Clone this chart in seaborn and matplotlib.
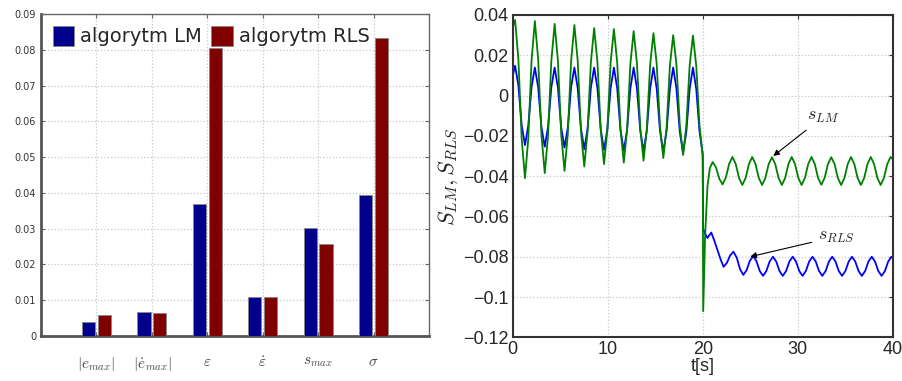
import numpy as np
import pandas as pd
import seaborn as sns
import matplotlib.pyplot as plt

# left panel: error measures for both algorithms
measures = [r'$|e_{max}|$', r'$|\dot{e}_{max}|$', r'$\varepsilon$',
            r'$\dot{\varepsilon}$', r'$s_{max}$', r'$\sigma$']
lm_vals = [0.0038, 0.0068, 0.0370, 0.0108, 0.0301, 0.0394]
rls_vals = [0.0060, 0.0065, 0.0804, 0.0110, 0.0256, 0.0833]
algorithms = ['algorytm LM', 'algorytm RLS']

# right panel: signals (sample step ~1/6 of the period)
step = 0.3467
t0_lm, s0_lm = 0.0, 0.034
t0_rls, s0_rls = 0.0, 0.0098
t_pre = 0.25 + step * np.arange(57)
s_lm_pre = [0.0375, 0.0179, -0.0214, -0.0410, -0.0215, 0.0175,
            0.0370, 0.0181, -0.0196, -0.0385, -0.0200, 0.0171,
            0.0356, 0.0174, -0.0192, -0.0374, -0.0193, 0.0169,
            0.0350, 0.0175, -0.0177, -0.0352, -0.0180, 0.0163,
            0.0335, 0.0166, -0.0171, -0.0340, -0.0173, 0.0163,
            0.0330, 0.0164, -0.0167, -0.0333, -0.0170, 0.0157,
            0.0320, 0.0159, -0.0162, -0.0323, -0.0165, 0.0152,
            0.0310, 0.0155, -0.0155, -0.0310, -0.0158, 0.0148,
            0.0300, 0.0151, -0.0146, -0.0295, -0.0147, 0.0150,
            0.0298, 0.0148, -0.0150]
s_rls_pre = [0.0148, 0.0050, -0.0148, -0.0246, -0.0150, 0.0043,
             0.0139, 0.0041, -0.0156, -0.0254, -0.0156, 0.0041,
             0.0139, 0.0040, -0.0159, -0.0258, -0.0159, 0.0040,
             0.0139, 0.0038, -0.0165, -0.0266, -0.0165, 0.0038,
             0.0139, 0.0037, -0.0168, -0.0270, -0.0168, 0.0037,
             0.0139, 0.0036, -0.0171, -0.0274, -0.0171, 0.0036,
             0.0139, 0.0035, -0.0173, -0.0277, -0.0173, 0.0035,
             0.0139, 0.0034, -0.0175, -0.0280, -0.0175, 0.0034,
             0.0139, 0.0033, -0.0179, -0.0285, -0.0179, 0.0033,
             0.0139, 0.0033, -0.0179]

# jump at t = 20 s
t_lm_jump = [20.0, 20.05, 20.25, 20.5, 20.75]
s_lm_jump = [-0.030, -0.107, -0.070, -0.045, -0.036]
t_rls_jump = [20.0, 20.04, 20.2, 20.5, 20.9, 21.22, 21.86]
s_rls_jump = [-0.029, -0.066, -0.068, -0.0707, -0.068, -0.072, -0.081]

t_lm_post = 21.05 + step * np.arange(55)
s_lm_post = [-0.0330, -0.0357, -0.0413, -0.0441, -0.0407, -0.0339,
             -0.0305, -0.0340, -0.0409, -0.0444, -0.0409, -0.0340,
             -0.0305, -0.0340, -0.0409, -0.0444, -0.0409, -0.0340,
             -0.0306, -0.0341, -0.0409, -0.0444, -0.0409, -0.0340,
             -0.0305, -0.0340, -0.0409, -0.0444, -0.0409, -0.0340,
             -0.0305, -0.0340, -0.0409, -0.0443, -0.0408, -0.0340,
             -0.0306, -0.0340, -0.0409, -0.0444, -0.0409, -0.0340,
             -0.0305, -0.0340, -0.0409, -0.0444, -0.0409, -0.0340,
             -0.0305, -0.0340, -0.0409, -0.0444, -0.0409, -0.0340,
             -0.0305]
t_rls_post = 22.19 + step * np.arange(52)
s_rls_post = [-0.0850, -0.0831, -0.0794, -0.0775, -0.0804, -0.0861,
              -0.0890, -0.0867, -0.0820, -0.0797, -0.0822, -0.0871,
              -0.0895, -0.0871, -0.0824, -0.0800, -0.0824, -0.0871,
              -0.0895, -0.0871, -0.0824, -0.0800, -0.0824, -0.0871,
              -0.0895, -0.0871, -0.0824, -0.0800, -0.0824, -0.0871,
              -0.0895, -0.0871, -0.0824, -0.0800, -0.0824, -0.0871,
              -0.0895, -0.0871, -0.0824, -0.0800, -0.0824, -0.0871,
              -0.0895, -0.0871, -0.0824, -0.0800, -0.0824, -0.0871,
              -0.0895, -0.0871, -0.0824, -0.0800]
t_end, s_lm_end, s_rls_end = 40.0, -0.0315, -0.0805

sns.set_style('white')
plt.rcParams['font.family'] = ['Liberation Sans', 'DejaVu Sans']
plt.rcParams['mathtext.fontset'] = 'cm'

df_bars = pd.DataFrame({
    'measure': measures * 2,
    'algorithm': [algorithms[0]] * 6 + [algorithms[1]] * 6,
    'value': lm_vals + rls_vals,
})

t_lm = np.concatenate([[t0_lm], t_pre, t_lm_jump, t_lm_post, [t_end]])
s_lm = np.concatenate([[s0_lm], s_lm_pre, s_lm_jump, s_lm_post, [s_lm_end]])
t_rls = np.concatenate([[t0_rls], t_pre, t_rls_jump, t_rls_post, [t_end]])
s_rls = np.concatenate([[s0_rls], s_rls_pre, s_rls_jump, s_rls_post, [s_rls_end]])
df_sig = pd.concat([
    pd.DataFrame({'t': t_rls, 's': s_rls, 'sig': 'RLS'}),
    pd.DataFrame({'t': t_lm, 's': s_lm, 'sig': 'LM'}),
])

fig = plt.figure(figsize=(9.03, 3.81), dpi=100)
ax1 = fig.add_axes([0.0454, 0.118, 0.4297, 0.845])
ax2 = fig.add_axes([0.5678, 0.1147, 0.4208, 0.846])

# bar chart
sns.barplot(data=df_bars, x='measure', y='value', hue='algorithm',
            palette=['#00008c', '#800000'], saturation=1, width=0.57, gap=0.17,
            edgecolor='#888888', linewidth=0.6, ax=ax1, zorder=3)
ax1.set_xlim(-1, 6)
ax1.set_ylim(0, 0.09)
ax1.set_yticks(np.arange(0, 0.091, 0.01))
ax1.set_yticklabels(['0'] + ['%.2f' % v for v in np.arange(0.01, 0.091, 0.01)],
                    family='DejaVu Sans')
ax1.set_xlabel('')
ax1.set_ylabel('')
ax1.grid(True, linestyle=':', color='#c8c8c8', linewidth=0.9)
ax1.set_axisbelow(True)
ax1.tick_params(axis='y', labelsize=7, labelcolor='#333333', direction='in',
                length=3, color='#666666', right=True, left=True)
ax1.tick_params(axis='x', labelsize=11, labelcolor='#444444', direction='in',
                length=3, pad=14, color='#666666', top=True, bottom=True)
for side in ['left', 'bottom']:
    ax1.spines[side].set_linewidth(2.0)
    ax1.spines[side].set_color('#555555')
for side in ['top', 'right']:
    ax1.spines[side].set_linewidth(1.0)
    ax1.spines[side].set_color('#666666')
ax1.legend(loc='upper left', ncol=2, frameon=False,
           prop={'family': 'DejaVu Sans', 'size': 14},
           handlelength=1.1, handleheight=1.2, handletextpad=0.3,
           columnspacing=0.5, borderaxespad=0.2, bbox_to_anchor=(0.0, 1.0))

# signals
sns.lineplot(data=df_sig, x='t', y='s', hue='sig', palette=['#0000ff', '#008000'],
             linewidth=1.3, sort=False, estimator=None, legend=False, ax=ax2)
ax2.set_xlim(0, 40)
ax2.set_ylim(-0.12, 0.04)
ax2.set_xticks([0, 10, 20, 30, 40])
ax2.set_yticks(np.arange(-0.12, 0.041, 0.02))
ax2.set_yticklabels(['\u22120.12', '\u22120.1', '\u22120.08', '\u22120.06',
                     '\u22120.04', '\u22120.02', '0', '0.02', '0.04'])
ax2.grid(True, linestyle=':', color='#c8c8c8', linewidth=0.9)
ax2.tick_params(labelsize=13, direction='in', length=3, color='#333333',
                top=True, right=True, pad=3)
for side in ax2.spines:
    ax2.spines[side].set_linewidth(1.5)
    ax2.spines[side].set_color('#333333')
ax2.set_xlabel('t[s]', fontsize=13, labelpad=0)
ax2.set_ylabel(r'$S_{LM}, S_{RLS}$', fontsize=16, labelpad=2)
ax2.annotate(r'$s_{LM}$', xy=(27.43, -0.030), xytext=(31.0, -0.0105),
             fontsize=13, va='center', ha='left',
             arrowprops=dict(arrowstyle='-|>', color='black', lw=0.8,
                             mutation_scale=9, shrinkA=2, shrinkB=0))
ax2.annotate(r'$s_{RLS}$', xy=(25.0, -0.080), xytext=(32.1, -0.070),
             fontsize=13, va='center', ha='left',
             arrowprops=dict(arrowstyle='-|>', color='black', lw=0.8,
                             mutation_scale=9, shrinkA=2, shrinkB=0))

fig.savefig('out.png', dpi=100)
